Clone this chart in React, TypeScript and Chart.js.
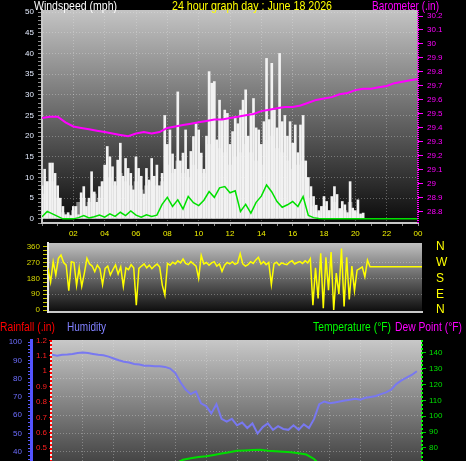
import React, { useEffect, useRef } from "react";
import { Chart, registerables } from "chart.js";

Chart.register(...registerables);

const FONT_FAMILY = '"Liberation Sans", Arial, Helvetica, sans-serif';
Chart.defaults.font.family = FONT_FAMILY;

// ---------------- data ----------------
const TITLE = "24 hour graph day : June 18 2026";
const TIME_LABELS = ["", "02", "04", "06", "08", "10", "12", "14", "16", "18", "20", "22", "00"];
const COMPASS_LABELS = ["N", "E", "S", "W", "N"];

// wind gust (mph), 10-minute samples from 00:00
const GUST_MPH = [
  8, 12, 9, 13.5, 13.5, 11, 8, 5, 3, 1, 1.5, 0.8,
  3, 3, 1, 6.3, 7.8, 3, 5, 11.4, 6.5, 4, 7.8, 9,
  13, 17.5, 15, 12.6, 9, 14.2, 18.3, 10.3, 14.6, 12.2, 11, 7,
  15, 12.2, 10.3, 6, 12.2, 9.4, 14.6, 10.3, 13, 8, 11, 25,
  18, 21.5, 15.7, 12, 30.7, 14, 15.9, 21.5, 12, 16.3, 19.9, 23,
  21.5, 15.9, 12, 20, 35.6, 32.8, 33.2, 19.1, 28.7, 24, 26.3, 25.5,
  18, 21.1, 24.7, 23, 26.3, 28.7, 31.2, 20, 25.5, 29.1, 22, 21.5,
  18, 23.5, 38.8, 24, 37.6, 26.3, 22, 40, 23.5, 25, 20, 23.5,
  18.3, 22.7, 16, 22.7, 25, 14, 10, 7.8, 5.4, 3.3, 2, 3,
  5.4, 4.2, 2, 5.4, 7.8, 5.9, 2.5, 4.2, 3.4, 1.5, 9, 2.6,
  2, 4.6, 1.2, 1.4,
];
// wind speed (mph), 20-minute samples
const SPEED_MPH = [
  6, 9, 9, 5, 1.5, 1, 2, 4, 5, 4, 6, 5,
  9, 10, 8, 11, 9, 8, 9, 7, 8, 9, 8, 9,
  13, 11, 14, 11, 10, 13, 12, 11, 18, 19, 17, 16,
  13, 15, 16, 18, 16, 14, 13, 19, 20, 17, 16, 14,
  12, 13, 14, 5, 3, 1.5, 3, 2, 4, 2, 2, 4,
  1.5, 1,
];
// average wind speed (mph), 20-minute samples
const AVG_MPH = [
  0.5, 1.8, 1.2, 0.6, 0, 0, 0, 0.3, 0.8, 0.2, 0.5, 0.9,
  0.4, 1.2, 0.6, 1.6, 0.8, 1.9, 0.9, 0.4, 1.0, 0.6, 0.9, 3.5,
  5.2, 3.0, 4.6, 2.4, 5.4, 3.9, 3.2, 4.5, 6.6, 5.2, 7.5, 7.8,
  6.3, 6.8, 1.8, 3.5, 1.4, 4.0, 5.5, 8.2, 6.5, 4.2, 2.8, 3.4,
  4.2, 3.0, 5.4, 0.8, 0.3, 0.1, 0, 0, 0, 0, 0, 0,
  0, 0, 0, 0, 0, 0, 0, 0, 0, 0, 0, 0, 0,
];
// barometer (inHg), 30-minute samples
const BARO_IN = [
  29.47, 29.48, 29.48, 29.44, 29.41, 29.40, 29.39, 29.38, 29.37, 29.36, 29.35, 29.34,
  29.36, 29.37, 29.36, 29.37, 29.40, 29.41, 29.42, 29.43, 29.44, 29.45, 29.46, 29.46,
  29.47, 29.48, 29.49, 29.50, 29.52, 29.53, 29.54, 29.55, 29.55, 29.56, 29.58, 29.60,
  29.61, 29.62, 29.64, 29.65, 29.67, 29.68, 29.68, 29.69, 29.70, 29.72, 29.73, 29.74,
  29.75,
];
// wind direction (degrees), 10-minute samples
const DIR_DEG = [
  237, 160, 275, 200, 294, 313, 270, 255, 110, 275, 270, 140,
  240, 135, 210, 294, 262, 250, 218, 256, 235, 145, 237, 250,
  200, 230, 256, 205, 245, 135, 240, 230, 258, 240, 28, 237,
  250, 262, 240, 255, 235, 250, 262, 245, 142, 85, 265, 255,
  272, 262, 280, 268, 290, 265, 258, 275, 262, 250, 180, 310,
  262, 270, 255, 268, 275, 250, 262, 220, 255, 270, 262, 275,
  260, 268, 320, 262, 250, 258, 275, 265, 285, 300, 262, 275,
  258, 270, 145, 262, 272, 255, 268, 262, 258, 272, 280, 262,
  270, 275, 265, 280, 268, 292, 28, 240, 66, 322, 10, 300,
  113, 330, 0, 210, 90, 350, 20, 300, 60, 250, 110, 227,
  235, 245, 189, 284, 246, 246, 246, 246, 246, 246, 246, 246,
  246, 246, 246, 246, 246, 246, 246, 246, 246, 246, 246, 246, 246,
];
// humidity (%), 20-minute samples
const HUMIDITY = [
  93.0, 92.5, 93.0, 93.2, 93.5, 94.0, 94.2, 94.0, 93.5, 93.0, 92.8, 92.0,
  91.0, 90.0, 89.2, 88.8, 88.0, 87.7, 87.0, 87.0, 86.8, 86.8, 86.4, 85.5,
  83.0, 78.0, 74.0, 71.5, 73.0, 66.5, 65.0, 61.0, 66.0, 58.0, 56.5, 58.0,
  54.5, 56.0, 53.0, 55.5, 50.0, 53.5, 55.5, 52.0, 54.0, 52.5, 52.0, 54.5,
  52.0, 55.0, 53.0, 58.0, 66.0, 67.5, 66.5, 67.0, 67.5, 68.0, 68.5, 69.0,
  68.5, 69.5, 70.0, 70.5, 71.5, 72.5, 74.0, 77.0, 79.0, 80.5, 82.0, 84.0,
];
// temperature (F), 30-minute samples
const TEMP_F = [
  63.0, 63.0, 62.8, 62.5, 62.4, 62.3, 62.2, 62.2, 62.3, 62.5, 62.8, 63.2,
  63.8, 64.5, 65.5, 67.0, 70.0, 72.5, 73.5, 74.2, 74.8, 75.6, 76.5, 77.3,
  78.2, 78.4, 78.7, 78.9, 78.2, 77.9, 77.6, 77.2, 76.6, 75.8, 73.0, 68.0,
  67.6, 67.3, 67.0, 66.8, 66.5, 66.2, 65.9, 65.5, 65.1, 64.8, 64.4, 64.1,
];
// dew point (F), 30-minute samples
const DEW_F = [
  60.5, 60.6, 60.5, 60.4, 60.4, 60.3, 60.3, 60.2, 60.2, 60.3, 60.4, 60.5,
  60.6, 60.8, 61.0, 61.3, 61.6, 61.8, 62.0, 61.6, 61.2, 60.8, 60.5, 60.2,
  59.9, 60.1, 59.8, 59.4, 59.6, 59.3, 59.1, 59.4, 59.0, 58.8, 59.5, 61.0,
  62.4, 62.8, 62.9, 63.0, 63.0, 62.9, 62.8, 62.6, 62.4, 62.2, 62.0, 61.8,
];
// rainfall (in), hourly
const RAIN_IN = [0, 0, 0, 0, 0, 0, 0, 0, 0, 0, 0, 0, 0, 0, 0, 0, 0, 0, 0, 0, 0, 0, 0, 0];

// ---------------- helpers ----------------
const toPoints = (values: number[], stepMinutes: number) =>
  values.map((v, i) => ({ x: (i * stepMinutes) / 60, y: v }));

const GRID = "rgba(235,235,235,0.33)";
const fixW = (w: number) => (s: any) => {
  s.width = w;
  s.paddingTop = 0;
  s.paddingBottom = 0;
};
const fixH = (h: number) => (s: any) => {
  s.height = h;
  s.paddingLeft = 0;
  s.paddingRight = 0;
};
const fmt1 = (v: number) => String(Number(Number(v).toFixed(1)));
const tickVal = (c: any) => (c && c.tick ? c.tick.value : NaN);

function backgroundPlugin(id: string, top: string, bottom: string) {
  return {
    id,
    beforeDraw(chart: any) {
      const { ctx, chartArea: a, width, height } = chart;
      ctx.save();
      ctx.fillStyle = "#000";
      ctx.fillRect(0, 0, width, height);
      const g = ctx.createLinearGradient(0, a.top, 0, a.bottom);
      g.addColorStop(0, top);
      g.addColorStop(1, bottom);
      ctx.fillStyle = g;
      ctx.fillRect(a.left, a.top, a.right - a.left, a.bottom - a.top);
      ctx.restore();
    },
  };
}

type TextItem = { text: string; x: number; y: number; w: number; size: number; color: string };
function textPlugin(id: string, items: TextItem[]) {
  return {
    id,
    afterDraw(chart: any) {
      const ctx = chart.ctx;
      ctx.save();
      ctx.textAlign = "left";
      ctx.textBaseline = "alphabetic";
      for (const t of items) {
        ctx.font = `${t.size}px ${FONT_FAMILY}`;
        ctx.fillStyle = t.color;
        ctx.fillText(t.text, t.x, t.y, t.w);
      }
      ctx.restore();
    },
  };
}

type AxisLine = { scale: string; color: string; width: number; dash: number[]; under?: string };
function axisLinePlugin(id: string, lines: AxisLine[]) {
  return {
    id,
    afterDraw(chart: any) {
      const ctx = chart.ctx;
      const a = chart.chartArea;
      ctx.save();
      for (const l of lines) {
        const sc = chart.scales[l.scale];
        const x = sc.position === "left" ? sc.right : sc.left;
        const xx = sc.position === "left" ? x - l.width / 2 : x + l.width / 2 - 1;
        if (l.under) {
          ctx.setLineDash([]);
          ctx.strokeStyle = l.under;
          ctx.lineWidth = l.width;
          ctx.beginPath();
          ctx.moveTo(xx, a.top);
          ctx.lineTo(xx, a.bottom);
          ctx.stroke();
        }
        ctx.setLineDash(l.dash);
        ctx.strokeStyle = l.color;
        ctx.lineWidth = l.width;
        ctx.beginPath();
        ctx.moveTo(xx, a.top);
        ctx.lineTo(xx, a.bottom);
        ctx.stroke();
      }
      ctx.restore();
    },
  };
}

const commonOptions = {
  responsive: false,
  animation: false as const,
  devicePixelRatio: 1,
  events: [] as any[],
};
const noPlugins = { legend: { display: false }, tooltip: { enabled: false } };

// ---------------- panel 1: wind + barometer ----------------
function windConfig(): any {
  return {
    type: "bar",
    data: {
      datasets: [
        {
          type: "line",
          label: "Barometer",
          data: toPoints(BARO_IN, 30),
          yAxisID: "yb",
          borderColor: "#ff00ff",
          borderWidth: 2,
          pointRadius: 0,
          order: 0,
        },
        {
          type: "line",
          label: "Average",
          data: toPoints(AVG_MPH, 20),
          yAxisID: "y",
          borderColor: "#00e000",
          borderWidth: 1.5,
          pointRadius: 0,
          order: 1,
        },
        {
          type: "bar",
          label: "Gust",
          data: toPoints(GUST_MPH, 10),
          yAxisID: "y",
          backgroundColor: "#f2f2f2",
          barThickness: 2,
          grouped: false,
          order: 2,
        },
        {
          type: "bar",
          label: "Speed",
          data: toPoints(SPEED_MPH, 20),
          yAxisID: "y",
          backgroundColor: "rgba(240,240,240,0.5)",
          barThickness: 4,
          grouped: false,
          order: 3,
        },
      ],
    },
    options: {
      ...commonOptions,
      layout: { padding: { top: 10, bottom: 0, left: 0, right: 0 } },
      plugins: noPlugins,
      scales: {
        x: {
          type: "linear",
          min: 0,
          max: 24,
          offset: false,
          afterFit: fixH(17),
          ticks: {
            stepSize: 1,
            autoSkip: false,
            maxRotation: 0,
            includeBounds: false,
            color: "#f0f000",
            font: { size: 8 },
            padding: 3,
            callback: (v: number) => (v % 2 === 0 ? TIME_LABELS[v / 2] : ""),
          },
          grid: {
            offset: false,
            color: (c: any) => {
              const v = tickVal(c);
              return v % 2 === 0 && v > 0 && v < 24 ? GRID : "transparent";
            },
            tickColor: "#8a8a8a",
            tickLength: 3,
          },
          border: { display: true, color: "#c8c8c8", width: 2, dash: [1, 2] },
        },
        y: {
          position: "left",
          min: -1,
          max: 50.5,
          afterFit: fixW(42),
          ticks: {
            stepSize: 1,
            autoSkip: false,
            includeBounds: false,
            color: "#e4ecff",
            font: { size: 8 },
            padding: 4,
            callback: (v: number) => (v % 5 === 0 ? String(v) : ""),
          },
          grid: {
            color: (c: any) => {
              const v = tickVal(c);
              return v % 5 === 0 && v > 0 ? GRID : "transparent";
            },
            tickColor: "#8c8c8c",
            tickLength: 4,
          },
          border: { display: true, color: "#c8c8c8", width: 2, dash: [1, 2] },
        },
        yb: {
          position: "right",
          min: 28.72,
          max: 30.243,
          afterFit: fixW(48),
          ticks: {
            stepSize: 0.1,
            autoSkip: false,
            includeBounds: false,
            color: "#ff00ff",
            font: { size: 8 },
            padding: 4,
            callback: (v: number) => fmt1(v),
          },
          grid: { drawOnChartArea: false, tickColor: "#ff00ff", tickLength: 5 },
          border: { display: false },
        },
      },
    },
    plugins: [
      backgroundPlugin("bg1", "#c4c4c4", "#0a0a0a"),
      axisLinePlugin("ax1", [{ scale: "yb", color: "#ff00ff", width: 2, dash: [1, 1] }]),
      textPlugin("tx1", [
        { text: "Windspeed (mph)", x: 34, y: 9.5, w: 83, size: 13, color: "#ffffff" },
        { text: TITLE, x: 172, y: 9.5, w: 160, size: 13, color: "#ffff00" },
        { text: "Barometer (.in)", x: 372, y: 9.5, w: 67, size: 13, color: "#ff00ff" },
      ]),
    ],
  };
}

// ---------------- panel 2: wind direction ----------------
function dirConfig(): any {
  return {
    type: "line",
    data: {
      datasets: [
        {
          label: "Wind direction",
          data: toPoints(DIR_DEG, 10),
          yAxisID: "y",
          borderColor: "#ffff00",
          borderWidth: 1.5,
          pointRadius: 0,
        },
      ],
    },
    options: {
      ...commonOptions,
      layout: { padding: { top: 3, bottom: 6, left: 0, right: 0 } },
      plugins: noPlugins,
      scales: {
        x: {
          type: "linear",
          min: 0,
          max: 24,
          afterFit: fixH(0),
          ticks: { display: false, stepSize: 2 },
          grid: { display: false, drawTicks: false },
          border: { display: true, color: "#c8c8c8", width: 2 },
        },
        y: {
          position: "left",
          min: -11,
          max: 381,
          afterFit: fixW(48),
          ticks: {
            stepSize: 22.5,
            autoSkip: false,
            includeBounds: false,
            color: "#d8d800",
            font: { size: 8 },
            padding: 3,
            callback: (v: number) => (v % 90 === 0 ? String(v) : ""),
          },
          grid: {
            color: (c: any) => {
              const v = tickVal(c);
              return v % 90 === 0 && v > 0 && v < 360 ? GRID : "transparent";
            },
            tickColor: "#c8c800",
            tickLength: 5,
          },
          border: { display: true, color: "#e6e6e6", width: 2, dash: [1, 2] },
        },
        yd: {
          position: "right",
          min: -11,
          max: 381,
          afterFit: fixW(44),
          ticks: {
            stepSize: 90,
            autoSkip: false,
            includeBounds: false,
            color: "#ffff00",
            font: { size: 12 },
            padding: 14,
            callback: (v: number) => COMPASS_LABELS[Math.round(v / 90)] ?? "",
          },
          grid: { display: false, drawTicks: false },
          border: { display: false },
        },
      },
    },
    plugins: [backgroundPlugin("bg2", "#c0c0c0", "#0c0c0c")],
  };
}

// ---------------- panel 3: humidity / temperature ----------------
function thermoConfig(): any {
  return {
    type: "line",
    data: {
      datasets: [
        {
          label: "Rainfall",
          data: toPoints(RAIN_IN, 60),
          yAxisID: "yr",
          borderColor: "#ff0000",
          borderWidth: 2,
          pointRadius: 0,
        },
        {
          label: "Dew Point",
          data: toPoints(DEW_F, 30),
          yAxisID: "yt",
          borderColor: "#ff00ff",
          borderWidth: 2,
          pointRadius: 0,
        },
        {
          label: "Temperature",
          data: toPoints(TEMP_F, 30),
          yAxisID: "yt",
          borderColor: "#00dd00",
          borderWidth: 2,
          pointRadius: 0,
        },
        {
          label: "Humidity",
          data: toPoints(HUMIDITY, 20),
          yAxisID: "yh",
          borderColor: "#7878f0",
          borderWidth: 2,
          pointRadius: 0,
        },
      ],
    },
    options: {
      ...commonOptions,
      layout: { padding: { top: 22, bottom: 13, left: 0, right: 0 } },
      plugins: noPlugins,
      scales: {
        x: {
          type: "linear",
          min: 0,
          max: 24,
          afterFit: fixH(0),
          ticks: { display: false, stepSize: 2 },
          grid: {
            drawTicks: false,
            color: (c: any) => {
              const v = tickVal(c);
              return v > 0 && v < 24 ? GRID : "transparent";
            },
          },
          border: { display: false, dash: [1, 2] },
        },
        yh: {
          position: "left",
          weight: 1,
          min: 0,
          max: 101.1,
          afterFit: fixW(31),
          ticks: {
            stepSize: 2,
            autoSkip: false,
            includeBounds: false,
            color: "#6e6eff",
            font: { size: 8 },
            padding: 6,
            callback: (v: number) => (v % 10 === 0 ? String(v) : ""),
          },
          grid: {
            color: (c: any) => {
              const v = tickVal(c);
              return v % 10 === 0 && v > 0 && v < 100 ? GRID : "transparent";
            },
            tickColor: "#5a5aff",
            tickLength: 3,
          },
          border: { display: true, color: "#5454ff", width: 3, dash: [1, 2] },
        },
        yr: {
          position: "left",
          weight: 0,
          min: 0,
          max: 1.2024,
          afterFit: fixW(21),
          ticks: {
            stepSize: 0.1,
            autoSkip: false,
            includeBounds: false,
            color: "#ff2020",
            font: { size: 8 },
            padding: 2,
            callback: (v: number) => fmt1(v),
          },
          grid: { drawOnChartArea: false, tickColor: "#ee0000", tickLength: 3 },
          border: { display: false },
        },
        yt: {
          position: "right",
          min: 31.3,
          max: 148.2,
          afterFit: fixW(44),
          ticks: {
            stepSize: 10,
            autoSkip: false,
            includeBounds: false,
            color: "#00e000",
            font: { size: 8 },
            padding: 3,
            callback: (v: number) => String(v),
          },
          grid: { drawOnChartArea: false, tickColor: "#00c000", tickLength: 4 },
          border: { display: false },
        },
      },
    },
    plugins: [
      backgroundPlugin("bg3", "#c8c8c8", "#000000"),
      axisLinePlugin("ax3", [
        { scale: "yr", color: "#ff0000", width: 2, dash: [2, 2], under: "#e8e8e8" },
        { scale: "yt", color: "#00ff00", width: 2, dash: [2, 2] },
      ]),
      textPlugin("tx3", [
        { text: "Rainfall (.in)", x: 0, y: 12.5, w: 55, size: 12, color: "#ff0000" },
        { text: "Humidity", x: 67, y: 12.5, w: 39, size: 12, color: "#8080ff" },
        { text: "Temperature (°F)", x: 313, y: 12.5, w: 78, size: 12, color: "#00ff00" },
        { text: "Dew Point (°F)", x: 395, y: 12.5, w: 67, size: 12, color: "#ff00ff" },
      ]),
    ],
  };
}

export default function App() {
  const windRef = useRef<HTMLCanvasElement>(null);
  const dirRef = useRef<HTMLCanvasElement>(null);
  const thermoRef = useRef<HTMLCanvasElement>(null);

  useEffect(() => {
    const charts: Chart[] = [];
    if (windRef.current) charts.push(new Chart(windRef.current, windConfig()));
    if (dirRef.current) charts.push(new Chart(dirRef.current, dirConfig()));
    if (thermoRef.current) charts.push(new Chart(thermoRef.current, thermoConfig()));
    return () => charts.forEach((c) => c.destroy());
  }, []);

  const abs = (top: number, h: number): React.CSSProperties => ({
    position: "absolute",
    left: 0,
    top,
    width: 466,
    height: h,
    display: "block",
  });

  return (
    <div
      style={{
        position: "fixed",
        left: 0,
        top: 0,
        width: 466,
        height: 461,
        overflow: "hidden",
        background: "#000",
      }}
    >
      <canvas ref={windRef} width={466} height={240} style={abs(0, 240)} />
      <canvas ref={dirRef} width={466} height={78} style={abs(240, 78)} />
      <canvas ref={thermoRef} width={466} height={220} style={abs(318, 220)} />
    </div>
  );
}
